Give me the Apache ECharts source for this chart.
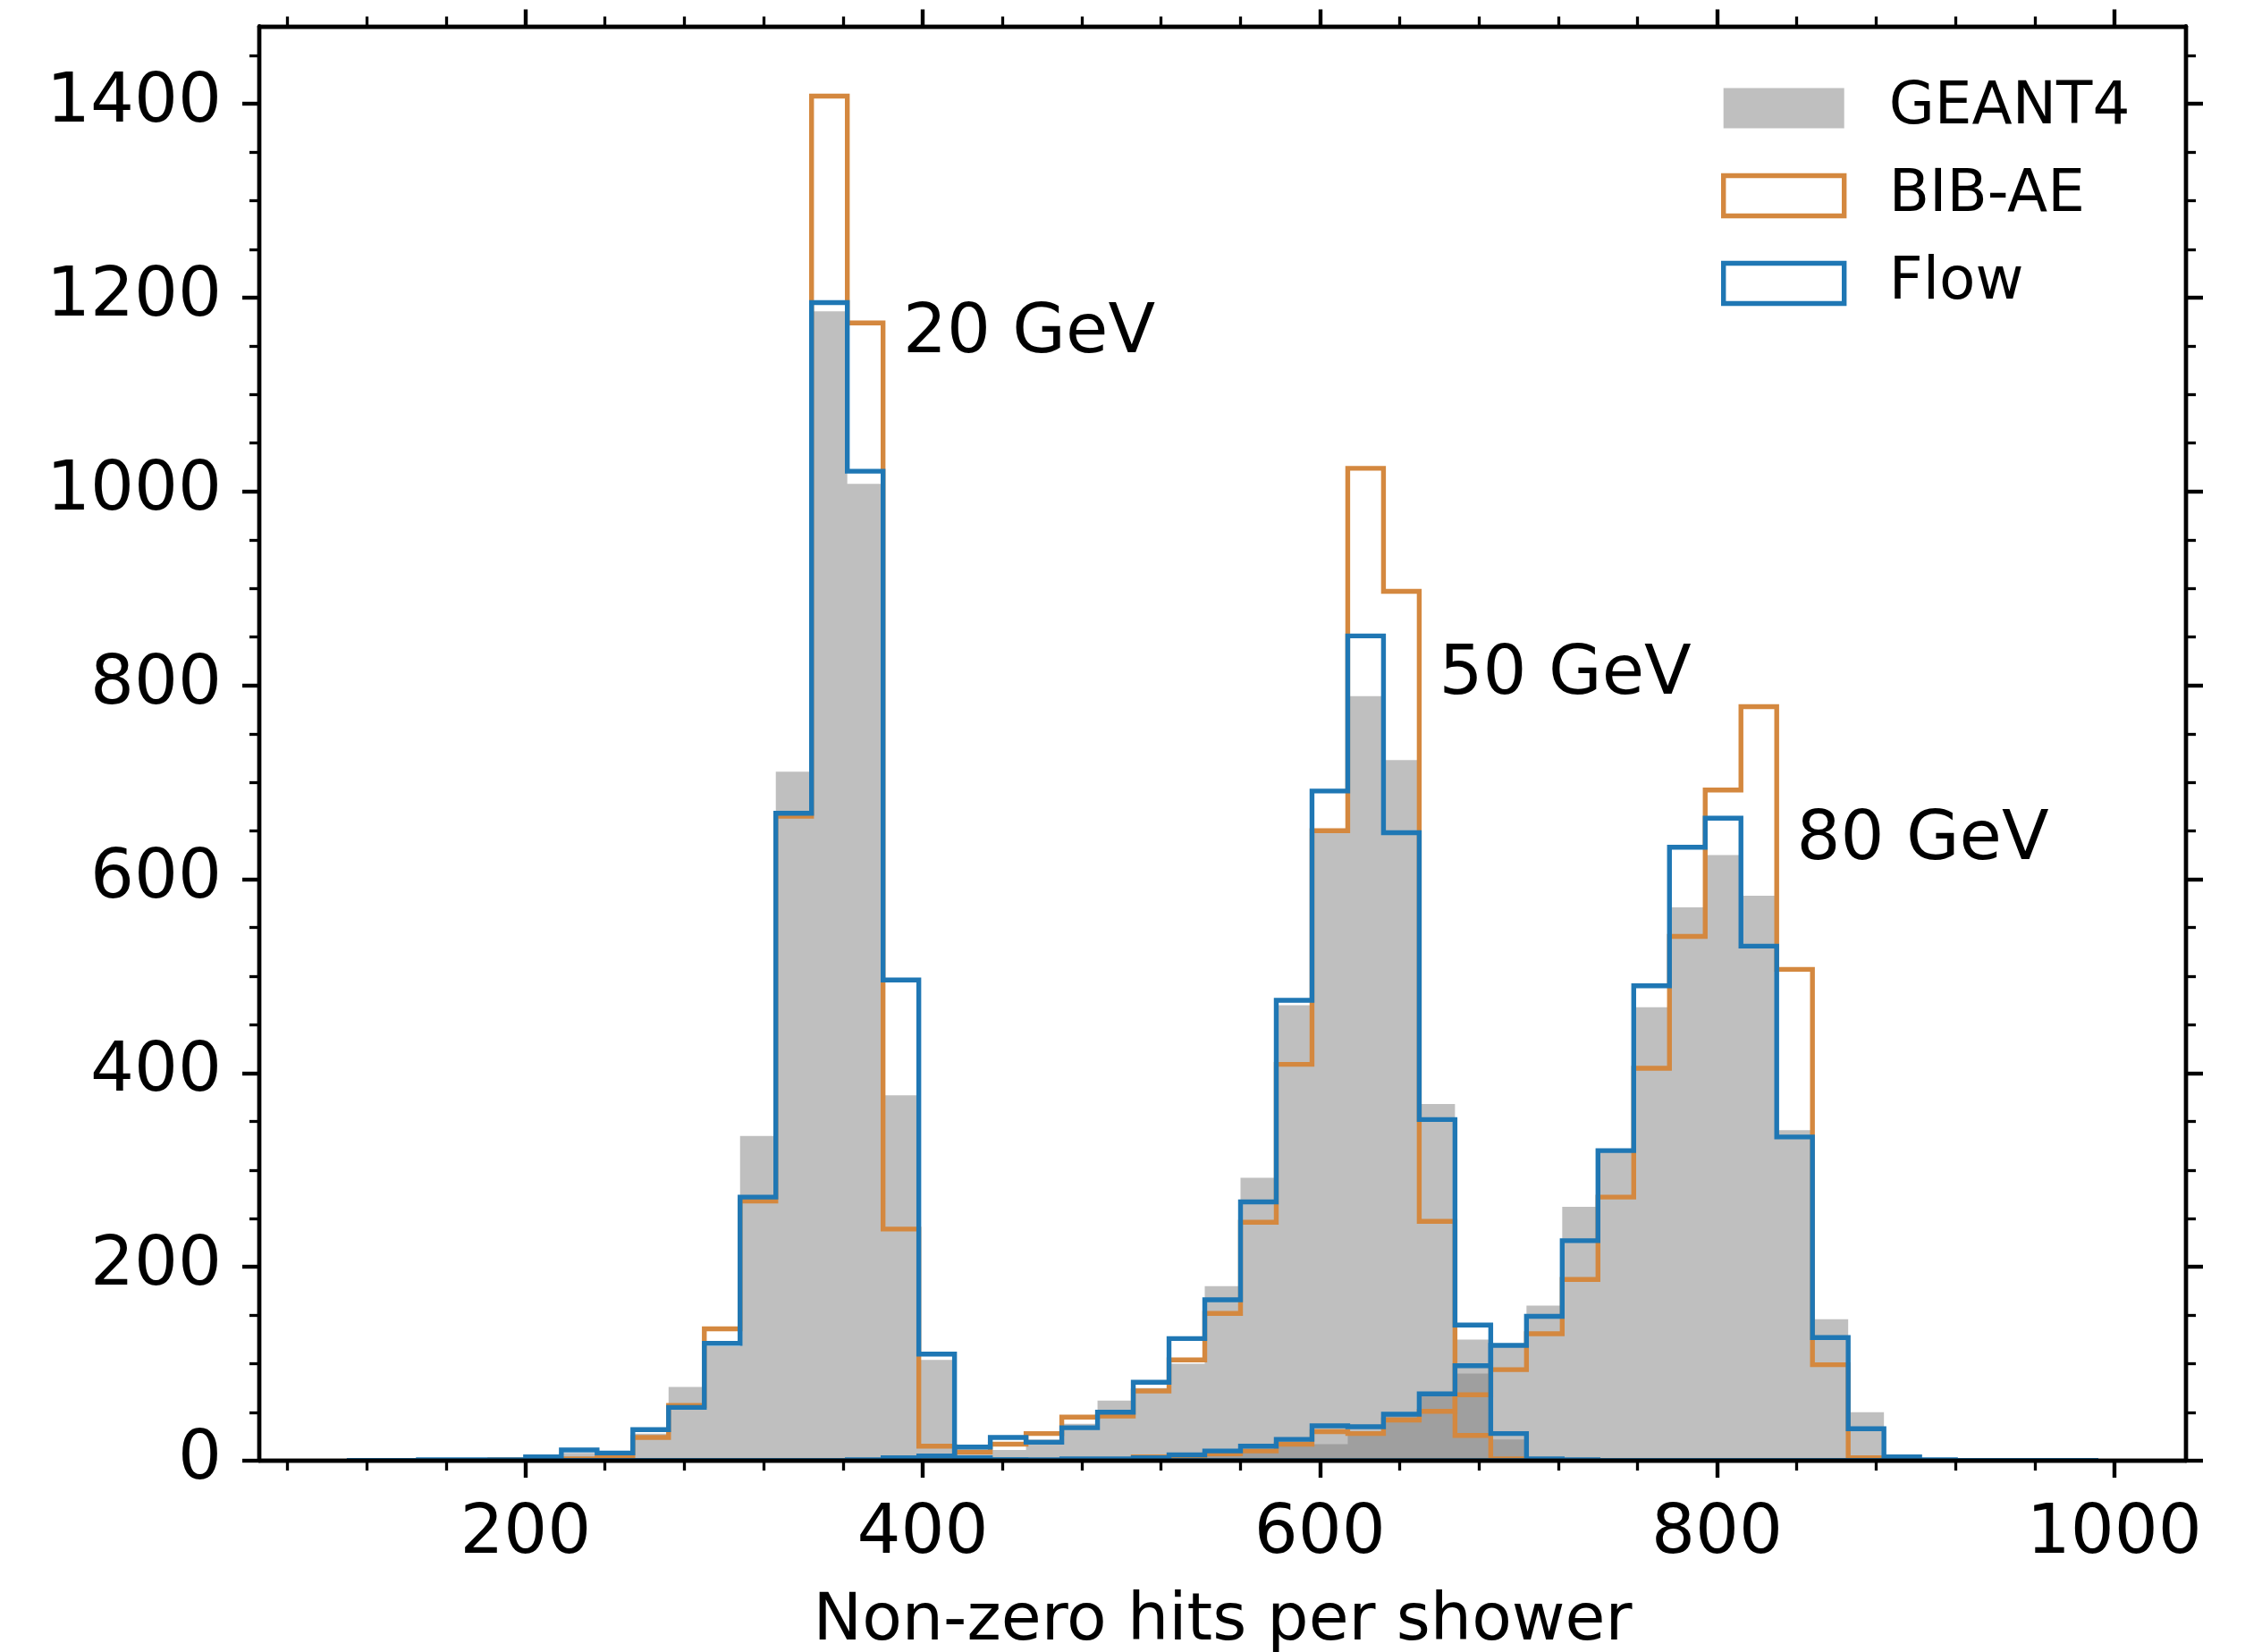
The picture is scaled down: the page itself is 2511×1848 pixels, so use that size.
<!DOCTYPE html>
<html>
<head>
<meta charset="utf-8">
<script src="https://cdn.jsdelivr.net/npm/echarts@6/dist/echarts.min.js"></script>
<style>
html,body{margin:0;padding:0;background:#ffffff;}
#chart{width:2511px;height:1848px;}
</style>
</head>
<body>
<div id="chart"></div>
<script>
// ---- data ----
const binEdges = [110,128,146,164,182,200,218,236,254,272,290,308,326,344,362,380,398,416,434,452,470,488,506,524,542,560,578,596,614,632,650,668,686,704,722,740,758,776,794,812,830,848,866,884,902,920,938,956,974,992];

const geant4_20 = [0,0,0,1,2,3,8,9,28,76,118,335,711,1186,1008,377,104,5,1,0,0,0,0,0,0,0,0,0,0,0,0,0,0,0,0,0,0,0,0,0,0,0,0,0,0,0,0,0,0];
const bibae_20  = [0,0,0,0,1,1,2,3,24,57,136,268,665,1408,1174,239,15,2,0,0,0,0,0,0,0,0,0,0,0,0,0,0,0,0,0,0,0,0,0,0,0,0,0,0,0,0,0,0,0];
const flow_20   = [0,0,1,1,1,4,11,8,32,55,121,272,668,1195,1021,496,110,3,1,0,0,0,0,0,0,0,0,0,0,0,0,0,0,0,0,0,0,0,0,0,0,0,0,0,0,0,0,0,0];

const geant4_50 = [0,0,0,0,0,0,0,0,0,0,0,0,0,0,0,1,3,8,11,22,38,62,75,100,180,292,470,652,789,723,368,125,22,1,0,0,0,0,0,0,0,0,0,0,0,0,0,0,0];
const bibae_50  = [0,0,0,0,0,0,0,0,0,0,0,0,0,0,0,1,2,9,17,28,45,46,72,104,152,246,409,650,1024,897,247,26,2,0,0,0,0,0,0,0,0,0,0,0,0,0,0,0,0];
const flow_50   = [0,0,0,0,0,0,0,0,0,0,0,0,0,0,1,3,5,14,24,19,34,50,81,126,166,267,475,691,851,648,352,140,28,2,1,0,0,0,0,0,0,0,0,0,0,0,0,0,0];

const geant4_80 = [0,0,0,0,0,0,0,0,0,0,0,0,0,0,0,0,0,0,0,0,1,1,2,3,6,10,18,17,27,46,67,90,120,160,262,320,468,571,625,583,341,146,50,2,0,0,0,0,0];
const bibae_80  = [0,0,0,0,0,0,0,0,0,0,0,0,0,0,0,0,0,0,0,0,0,1,4,5,7,10,17,30,28,42,51,68,94,131,187,272,405,541,692,778,507,99,3,1,0,0,0,0,0];
const flow_80   = [0,0,0,0,0,0,0,0,0,0,0,0,0,0,0,0,0,0,1,1,2,2,3,6,10,15,22,36,35,48,69,98,119,149,227,320,490,633,663,531,334,127,33,4,1,0,0,0,0];

const xMajorTicks = [200,400,600,800,1000];
const xMinorTicks = [80,120,160,240,280,320,360,440,480,520,560,640,680,720,760,840,880,920,960];
const yMajorTicks = [0,200,400,600,800,1000,1200,1400];
const yMinorTicks = [50,100,150,250,300,350,450,500,550,650,700,750,850,900,950,1050,1100,1150,1250,1300,1350,1450];

const annotationTexts = ['20 GeV','50 GeV','80 GeV'];
const annotationX = [390,660,840];
const annotationY = [1162,810,639];

const xRange = [65.9, 1036.1];
const yRange = [0, 1480];

// ---- styling ----
const FONT = 'DejaVu Sans';
const GREY = 'rgba(128,128,128,0.5)';
const ORANGE = '#d4883f';
const BLUE = '#1f77b4';
const LW = 5.4;

const geantSets = [geant4_20, geant4_50, geant4_80];
const bibSets = [bibae_20, bibae_50, bibae_80];
const flowSets = [flow_20, flow_50, flow_80];

function stepPoints(api, vals) {
  const pts = [api.coord([binEdges[0], 0])];
  for (let k = 0; k < vals.length; k++) {
    pts.push(api.coord([binEdges[k], vals[k]]));
    pts.push(api.coord([binEdges[k + 1], vals[k]]));
  }
  pts.push(api.coord([binEdges[binEdges.length - 1], 0]));
  return pts;
}

function plain(v) { return String(v); }

function makeAxis(dim, pos, ticks, len, width, showLabel, extra) {
  const rng = dim === 'x' ? xRange : yRange;
  const ax = {
    type: 'value', position: pos, min: rng[0], max: rng[1], z: 10,
    axisLine: { show: true, onZero: false, lineStyle: { color: '#000', width: 4.4 } },
    axisTick: { show: true, inside: false, length: len, customValues: ticks, lineStyle: { color: '#000', width: width } },
    axisLabel: { show: showLabel, customValues: ticks, formatter: plain, fontSize: 77, fontFamily: FONT, color: '#000' },
    splitLine: { show: false },
    minorTick: { show: false }
  };
  return Object.assign(ax, extra || {});
}

const chart = echarts.init(document.getElementById('chart'), null, { renderer: 'canvas' });

const seriesData = [[binEdges[0], 0], [binEdges[0], 0], [binEdges[0], 0]];

const option = {
  animation: false,
  backgroundColor: '#ffffff',
  grid: { left: 290, right: 66, top: 29.5, bottom: 214, containLabel: false, outerBoundsMode: 'none' },
  xAxis: [
    makeAxis('x', 'bottom', xMajorTicks, 19, 4.4, true, {
      name: 'Non-zero hits per shower', nameLocation: 'middle', nameGap: 145,
      nameTextStyle: { fontSize: 73, fontFamily: FONT, color: '#000' },
      axisLabel: { show: true, customValues: xMajorTicks, formatter: plain, fontSize: 77, fontFamily: FONT, color: '#000', margin: 44 }
    }),
    makeAxis('x', 'bottom', xMinorTicks, 11, 3.3, false),
    makeAxis('x', 'top', xMajorTicks, 19, 4.4, false),
    makeAxis('x', 'top', xMinorTicks, 11, 3.3, false)
  ],
  yAxis: [
    makeAxis('y', 'left', yMajorTicks, 19, 4.4, true, {
      axisLabel: { show: true, customValues: yMajorTicks, formatter: plain, fontSize: 77, fontFamily: FONT, color: '#000', margin: 42 }
    }),
    makeAxis('y', 'left', yMinorTicks, 11, 3.3, false),
    makeAxis('y', 'right', yMajorTicks, 19, 4.4, false),
    makeAxis('y', 'right', yMinorTicks, 11, 3.3, false)
  ],
  legend: {
    orient: 'vertical', left: 1920, top: 83,
    itemWidth: 135, itemHeight: 45, itemGap: 32,
    selectedMode: false,
    textStyle: { fontSize: 66, fontFamily: FONT, color: '#000', lineHeight: 45, padding: [0, 0, 0, 45] },
    data: [
      { name: 'GEANT4', icon: 'rect', itemStyle: { color: GREY, borderWidth: 0 } },
      { name: 'BIB-AE', icon: 'rect', itemStyle: { color: 'rgba(255,255,255,0)', borderColor: ORANGE, borderWidth: LW } },
      { name: 'Flow', icon: 'rect', itemStyle: { color: 'rgba(255,255,255,0)', borderColor: BLUE, borderWidth: LW } }
    ]
  },
  series: [
    {
      name: 'GEANT4', type: 'custom', xAxisIndex: 0, yAxisIndex: 0, clip: true, z: 2,
      itemStyle: { color: GREY },
      data: seriesData, encode: { x: 0, y: 1 },
      renderItem: function (params, api) {
        return { type: 'polygon', shape: { points: stepPoints(api, geantSets[params.dataIndex]) },
                 style: { fill: GREY, stroke: null } };
      }
    },
    {
      name: 'BIB-AE', type: 'custom', xAxisIndex: 0, yAxisIndex: 0, clip: true, z: 3,
      itemStyle: { color: ORANGE },
      data: seriesData, encode: { x: 0, y: 1 },
      renderItem: function (params, api) {
        return { type: 'polyline', shape: { points: stepPoints(api, bibSets[params.dataIndex]) },
                 style: { stroke: ORANGE, lineWidth: LW, fill: null, lineJoin: 'miter' } };
      }
    },
    {
      name: 'Flow', type: 'custom', xAxisIndex: 0, yAxisIndex: 0, clip: true, z: 4,
      itemStyle: { color: BLUE },
      data: seriesData, encode: { x: 0, y: 1 },
      renderItem: function (params, api) {
        return { type: 'polyline', shape: { points: stepPoints(api, flowSets[params.dataIndex]) },
                 style: { stroke: BLUE, lineWidth: LW, fill: null, lineJoin: 'miter' } };
      }
    },
    {
      name: 'annotations', type: 'custom', xAxisIndex: 0, yAxisIndex: 0, z: 5, silent: true,
      data: annotationX.map(function (x, i) { return [x, annotationY[i]]; }),
      encode: { x: 0, y: 1 },
      renderItem: function (params, api) {
        const p = api.coord([api.value(0), api.value(1)]);
        return { type: 'text', x: p[0], y: p[1],
                 style: { text: annotationTexts[params.dataIndex], fontSize: 77, fontFamily: FONT,
                          fill: '#000', align: 'left', verticalAlign: 'middle' } };
      }
    }
  ]
};
chart.setOption(option);
</script>
</body>
</html>
